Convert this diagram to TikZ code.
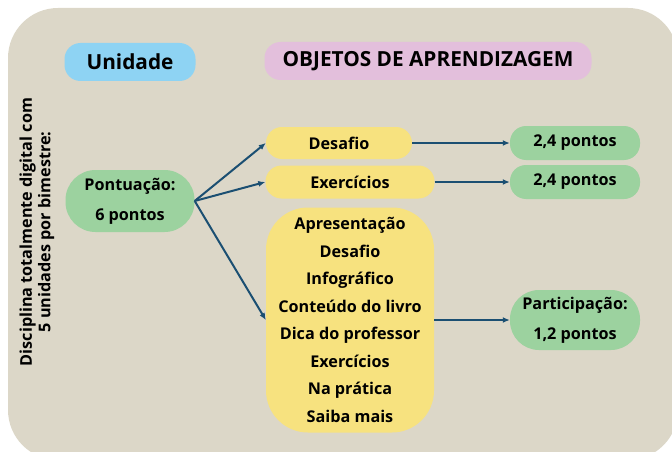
\documentclass[tikz,border=0pt]{standalone}
\usepackage{fontspec}
\setmainfont{Open Sans}
\usetikzlibrary{arrows.meta}
\definecolor{fundo}{RGB}{220,215,200}
\definecolor{azul}{RGB}{142,211,243}
\definecolor{rosa}{RGB}{227,191,220}
\definecolor{verde}{RGB}{156,210,159}
\definecolor{amarelo}{RGB}{247,226,127}
\definecolor{seta}{RGB}{27,79,114}

\begin{document}
\begin{tikzpicture}[x=1pt,y=-1pt,font=\bfseries\fontsize{16.2}{18.5}\selectfont,>={Latex[length=7pt,width=6pt]},pill/.style={inner sep=0pt, align=center, rounded corners=16pt},titulo/.style={pill, font=\bfseries\fontsize{20.8}{24}\selectfont, minimum height=38pt},liga/.style={->, seta, line width=2pt}]
\useasboundingbox (0,0) rectangle (672,452);\clip (0,0) rectangle (672,452);
\fill[fundo, rounded corners=50pt] (8,8) rectangle (678,460);
\node[titulo, fill=azul, minimum width=131pt] (unidade) at (130,62) {Unidade};
\node[titulo, fill=rosa, minimum width=327pt] (objetos) at (428,61) {OBJETOS DE APRENDIZAGEM};
\node[rotate=90, align=center] (disciplina) at (37,232) {Disciplina totalmente digital com\\5 unidades por bimestre:};
\node[pill, fill=verde, minimum width=129pt, minimum height=62pt, rounded corners=30pt, font=\bfseries\fontsize{16.2}{30}\selectfont] (pontuacao) at (130,201) {Pontuação:\\6 pontos};
\node[pill, fill=amarelo, minimum width=146pt, minimum height=32pt] (desafio) at (339,143) {Desafio};
\node[pill, fill=amarelo, minimum width=169pt, minimum height=33pt] (exercicios) at (350,182) {Exercícios};
\node[pill, fill=amarelo, minimum width=168pt, minimum height=225pt, rounded corners=42pt, font=\bfseries\fontsize{16.2}{27.5}\selectfont] (objetos2) at (350,320) {Apresentação\\Desafio\\Infográfico\\Conteúdo do livro\\Dica do professor\\Exercícios\\Na prática\\Saiba mais};
\node[pill, fill=verde, minimum width=130pt, minimum height=34pt] (pontos1) at (575,143) {2,4 pontos};
\node[pill, fill=verde, minimum width=130pt, minimum height=34pt] (pontos2) at (575,182) {2,4 pontos};
\node[pill, fill=verde, minimum width=130pt, minimum height=60pt, rounded corners=29pt, font=\bfseries\fontsize{16.2}{30}\selectfont] (participacao) at (575,320) {Participação:\\1,2 pontos};
\draw[liga] (pontuacao.east) -- (desafio.west);\draw[liga] (pontuacao.east) -- (exercicios.west);\draw[liga] (pontuacao.east) -- (objetos2.west);
\draw[liga] (desafio.east) -- (pontos1.west);\draw[liga] (exercicios.east) -- (pontos2.west);\draw[liga] (objetos2.east) -- (participacao.west);
\end{tikzpicture}
\end{document}
